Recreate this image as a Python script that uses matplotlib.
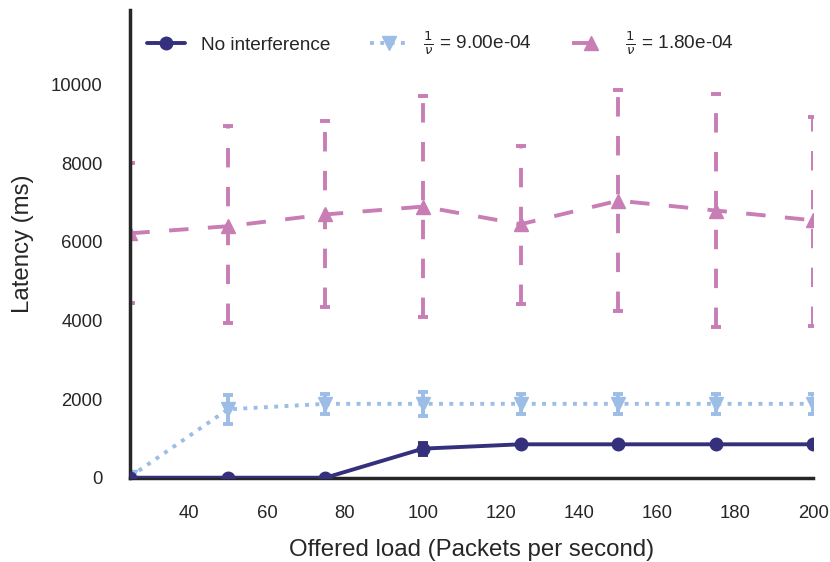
import numpy as np
import matplotlib
matplotlib.use('Agg')
import matplotlib.pyplot as plt
import seaborn as sns

sns.set_style('white')
plt.rcParams['font.family'] = ['Liberation Sans', 'DejaVu Sans']

load = [25, 50, 75, 100, 125, 150, 175, 200]

# no interference
lat_none = [0, 0, 0, 740, 850, 850, 850, 850]
err_none = [0, 0, 0, 150, 20, 20, 20, 20]

# 1/nu = 9.00e-04
lat_a = [30, 1740, 1880, 1880, 1880, 1880, 1880, 1880]
err_a = [20, 370, 250, 300, 260, 250, 250, 260]

# 1/nu = 1.80e-04
lat_b = [6220, 6400, 6700, 6900, 6450, 7050, 6800, 6550]
err_lo = [1780, 2460, 2360, 2820, 2030, 2810, 2970, 2690]
err_hi = [1800, 2560, 2390, 2820, 2000, 2820, 2970, 2640]

fig, ax = plt.subplots(figsize=(8.3, 5.62), dpi=100)

e1 = ax.errorbar(load, lat_none, yerr=err_none, color='#34307c', marker='o', ms=9,
                 lw=2.8, ls='-', capsize=3.7, capthick=2.8, elinewidth=2.8, zorder=3)
e2 = ax.errorbar(load, lat_a, yerr=err_a, color='#9bbde6', marker='v', ms=10,
                 lw=2.8, ls=':', capsize=3.7, capthick=2.8, elinewidth=2.8)
e3 = ax.errorbar(load, lat_b, yerr=[err_lo, err_hi], color='#c97db5', marker='^',
                 ms=10, lw=2.8, ls=(0, (5, 5)), capsize=3.7, capthick=2.8,
                 elinewidth=2.8)
e3[2][0].set_linestyle((0, (5, 5)))

ax.set_xlim(25, 200)
ax.set_ylim(0, 11900)
ax.set_xticks([40, 60, 80, 100, 120, 140, 160, 180, 200])
ax.set_yticks([0, 2000, 4000, 6000, 8000, 10000])
ax.tick_params(labelsize=13.3, pad=20, length=0)
ax.set_xlabel('Offered load (Packets per second)', fontsize=17.3, labelpad=12)
ax.set_ylabel('Latency (ms)', fontsize=17.3, labelpad=12)

for s in ['top', 'right']:
    ax.spines[s].set_visible(False)
for s in ['left', 'bottom']:
    ax.spines[s].set_color('#262626')
    ax.spines[s].set_linewidth(2.5)

ax.legend([e1[0], e2[0], e3[0]],
          ['No interference', r'$\frac{1}{\nu}$ = 9.00e-04', r'$\frac{1}{\nu}$ = 1.80e-04'],
          loc='upper left', ncol=3, frameon=False, fontsize=13.7,
          columnspacing=2.1, handlelength=2.0, bbox_to_anchor=(0.0, 0.995))

plt.subplots_adjust(left=0.157, right=0.98, top=0.982, bottom=0.15)
plt.savefig('out.png')
